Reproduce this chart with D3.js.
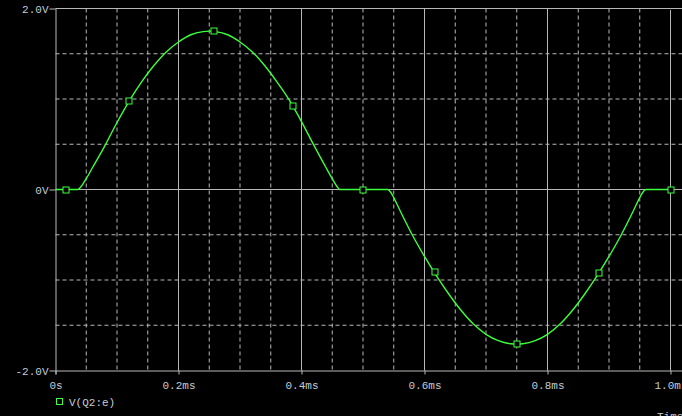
<!DOCTYPE html>
<html><head><meta charset="utf-8">
<script src="https://cdn.jsdelivr.net/npm/d3@7"></script>
<style>
html,body{margin:0;padding:0;background:#000;overflow:hidden}
svg{display:block}
text{font-family:"Liberation Mono","DejaVu Sans Mono",monospace;font-size:11px;fill:#c4ccd4}
</style></head>
<body>
<script>
// time in ms, voltage in V
const timeMs = [0, 0.02, 0.036, 0.04, 0.05, 0.06, 0.08, 0.10, 0.12, 0.14, 0.16, 0.18, 0.20, 0.22, 0.24, 0.25, 0.26, 0.28, 0.30, 0.32, 0.34, 0.36, 0.38, 0.40, 0.42, 0.44, 0.45, 0.458, 0.462, 0.50,
  0.54, 0.545, 0.55, 0.56, 0.58, 0.60, 0.62, 0.64, 0.66, 0.68, 0.70, 0.72, 0.74, 0.75, 0.76, 0.78, 0.80, 0.82, 0.84, 0.86, 0.88, 0.90, 0.92, 0.94, 0.95, 0.955, 0.96, 1.0];
const voltage = [0, 0, 0, 0.02, 0.12, 0.24, 0.48, 0.74, 0.98, 1.19, 1.37, 1.52, 1.63, 1.71, 1.745, 1.75, 1.745, 1.71, 1.63, 1.52, 1.37, 1.19, 0.99, 0.75, 0.49, 0.24, 0.12, 0.03, 0, 0,
  0, -0.03, -0.09, -0.23, -0.50, -0.74, -0.96, -1.16, -1.34, -1.49, -1.60, -1.67, -1.705, -1.71, -1.705, -1.67, -1.60, -1.49, -1.34, -1.16, -0.96, -0.74, -0.50, -0.23, -0.09, -0.03, 0, 0];
const markerT = [0.017, 0.12, 0.257, 0.386, 0.50, 0.617, 0.751, 0.884, 1.0];
const markerV = [0, 0.98, 1.75, 0.92, 0, -0.915, -1.71, -0.926, 0];
const xTickValues = [0, 0.2, 0.4, 0.6, 0.8, 1.0];
const xTickLabels = ["0s", "0.2ms", "0.4ms", "0.6ms", "0.8ms", "1.0ms"];
const xMinorValues = [0.05,0.1,0.15,0.25,0.3,0.35,0.45,0.5,0.55,0.65,0.7,0.75,0.85,0.9,0.95];
const yTickValues = [2, 0, -2];
const yTickLabels = ["2.0V", "0V", "-2.0V"];
const yMinorValues = [1.5, 1.0, 0.5, -0.5, -1.0, -1.5];
const legendLabel = "V(Q2:e)";
const xTitle = "Time";

const W = 682, H = 416;
const svg = d3.select("body").append("svg").attr("width", W).attr("height", H);
svg.append("rect").attr("width", W).attr("height", H).attr("fill", "#000");

const x = d3.scaleLinear().domain([0, 1]).range([55.5, 670.5]);
const y = d3.scaleLinear().domain([-2, 2]).range([370.5, 8.5]);
const gridCol = "#b8b8b8";

// minor dashed grid
svg.append("g").selectAll("line").data(xMinorValues).join("line")
  .attr("x1", d => x(d)).attr("x2", d => x(d)).attr("y1", y(2)).attr("y2", y(-2))
  .attr("stroke", gridCol).attr("stroke-dasharray", "4,3");
svg.append("g").selectAll("line").data(yMinorValues).join("line")
  .attr("y1", d => y(d)).attr("y2", d => y(d)).attr("x1", x(0)).attr("x2", W)
  .attr("stroke", gridCol).attr("stroke-dasharray", "4,3");

// solid major grid
svg.append("g").selectAll("line").data(xTickValues.slice(1)).join("line")
  .attr("x1", d => x(d)).attr("x2", d => x(d)).attr("y1", d => d === 1 ? y(2) + 1.5 : y(2)).attr("y2", y(-2))
  .attr("stroke", gridCol);
svg.append("line").attr("x1", x(0)).attr("x2", W).attr("y1", y(0)).attr("y2", y(0)).attr("stroke", gridCol);
svg.append("line").attr("x1", x(0)).attr("x2", W).attr("y1", y(2)).attr("y2", y(2)).attr("stroke", gridCol);

// axes
const xAxis = d3.axisBottom(x).tickValues(xTickValues).tickSize(4).tickPadding(7)
  .tickFormat((d, i) => xTickLabels[i]);
const gx = svg.append("g").attr("transform", `translate(0,${y(-2)})`).call(xAxis);
gx.select(".domain").attr("d", `M${x(0)},0.5H${W}`).attr("stroke", gridCol);
gx.selectAll(".tick line").attr("stroke", gridCol);
gx.selectAll("text").attr("fill", "#c4ccd4").style("font-family", "Liberation Mono, monospace").style("font-size", "11px");

const yAxis = d3.axisLeft(y).tickValues(yTickValues).tickSize(6).tickPadding(1)
  .tickFormat((d, i) => yTickLabels[i]);
const gy = svg.append("g").attr("transform", `translate(${x(0)},0)`).call(yAxis);
gy.select(".domain").attr("d", `M0.5,${y(2)}V${y(-2) + 4}`).attr("stroke", gridCol);
gy.selectAll(".tick line").attr("stroke", gridCol);
gy.selectAll("text").attr("fill", "#c4ccd4").style("font-family", "Liberation Mono, monospace").style("font-size", "11px");

// trace
const traceCol = "#3cff3c";
const pts = timeMs.map((t, i) => [t, voltage[i]]);
svg.append("path").datum(pts)
  .attr("d", d3.line().x(d => x(d[0])).y(d => y(d[1])).curve(d3.curveMonotoneX))
  .attr("fill", "none").attr("stroke", traceCol).attr("stroke-width", 1.4);

svg.append("g").selectAll("rect").data(markerT.map((t, i) => [t, markerV[i]])).join("rect")
  .attr("x", d => Math.round(x(d[0])) - 3).attr("y", d => Math.round(y(d[1])) - 3)
  .attr("width", 6).attr("height", 6).attr("fill", "#000").attr("stroke", traceCol);

// legend
svg.append("rect").attr("x", 56.5).attr("y", 398.5).attr("width", 6).attr("height", 6)
  .attr("fill", "none").attr("stroke", traceCol);
svg.append("text").attr("x", 69).attr("y", 406).text(legendLabel);
svg.append("text").attr("x", 657).attr("y", 420).text(xTitle);
</script>
</body></html>
